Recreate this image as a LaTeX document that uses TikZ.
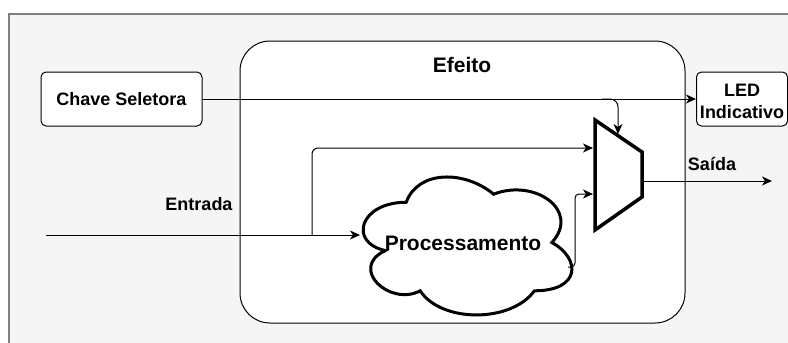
\documentclass[tikz,border=0pt]{standalone}
\usepackage{fontspec}
\setmainfont{Liberation Sans}
\usetikzlibrary{arrows.meta}
\begin{document}
\begin{tikzpicture}[x=1pt,y=-1pt,
  conn/.style={line width=1pt,-{Stealth[length=10pt,width=9pt,inset=3pt]}},
  plain/.style={line width=1pt},
  lbl/.style={font=\fontsize{18}{21}\selectfont\bfseries, inner sep=0pt},
  big/.style={font=\fontsize{21}{24}\selectfont\bfseries, inner sep=0pt},
  box/.style={draw, fill=white, line width=1pt, rounded corners=5pt, inner sep=0pt, align=center},
]
\useasboundingbox (0,0) rectangle (788,343);
\fill[white] (0,0) rectangle (788,343);
\draw[fill=black!4, draw=black!50, line width=1.3pt] (9,14) rectangle (800,360);

% Efeito container
\node[draw, fill=white, line width=1pt, rounded corners=30pt, minimum width=445pt, minimum height=282pt, inner sep=0pt] (efeito) at (462.5,182) {};
\node[big] (efeitolbl) at (462,65) {Efeito};

% boxes
\node[box, minimum width=161pt, minimum height=54pt] (chave) at (121.5,99) {};
\node[lbl] at (chave.center) {Chave Seletora};
\node[box, minimum width=91pt, minimum height=54pt] (led) at (742,99) {};
\node[lbl, align=center] at (742,90) {LED};
\node[lbl, align=center] at (742,112) {Indicativo};

% cloud
\draw[line width=3pt, fill=white]
  (406.25,202.25)
  .. controls (359.65,202.25) and (348,242.5) .. (385.28,250.55)
  .. controls (348,268.26) and (389.94,306.9) .. (420.23,290.8)
  .. controls (441.2,323) and (511.1,323) .. (534.4,290.8)
  .. controls (581,290.8) and (581,258.6) .. (551.875,242.5)
  .. controls (581,210.3) and (534.4,178.1) .. (493.625,194.2)
  .. controls (464.5,170.05) and (417.9,170.05) .. (406.25,202.25) -- cycle;
\node[big] (proc) at (463,243) {Processamento};
\coordinate (procin) at (360,235);
\coordinate (procout) at (568,267);

% mux
\coordinate (m1) at (595,120);
\coordinate (m2) at (642,152);
\coordinate (m3) at (642,197);
\coordinate (m4) at (595,230);
\draw[line width=3.5pt, line join=miter, fill=white] (m1) -- (m2) -- (m3) -- (m4) -- cycle;
\coordinate (muxtop) at (618,134);
\coordinate (muxin1) at (593,148);
\coordinate (muxin2) at (593,194);
\coordinate (muxout) at (644,181);

% labels
\node[lbl] (entrada) at (199,204) {Entrada};
\node[lbl] (saida) at (712,164) {Saída};

% connectors
\coordinate (start) at (46,235);
\coordinate (out) at (772,181);
\draw[conn] (chave.east) -- (led.west);
\draw[conn, rounded corners=8pt] (602,99) -- (618,99) -- (muxtop);
\draw[conn] (start) -- (procin);
\draw[conn, rounded corners=6pt] (312,235) -- (312,148) -- (muxin1);
\draw[conn, rounded corners=4pt] (procout) -- (575,267) -- (575,194) -- (muxin2);
\draw[conn] (muxout) -- (out);
\end{tikzpicture}
\end{document}
